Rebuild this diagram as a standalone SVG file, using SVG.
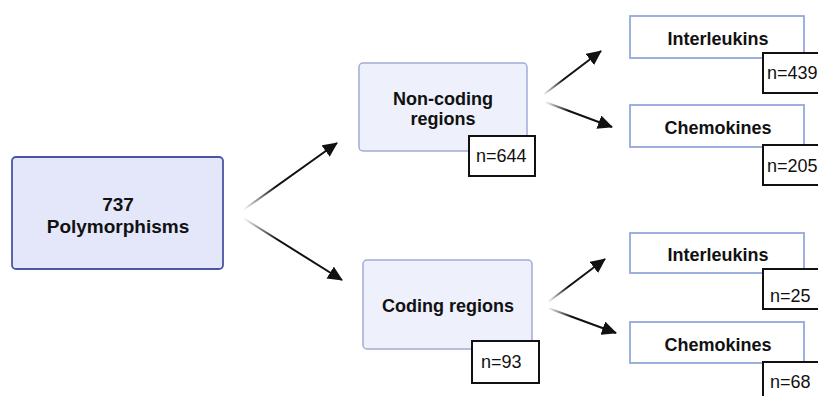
<svg xmlns="http://www.w3.org/2000/svg" width="818" height="396" viewBox="0 0 818 396">
<style>
  text { font-family: "Liberation Sans", Arial, sans-serif; text-anchor: middle; fill: #111; }
  .b { font-weight: bold; font-size: 18px; }
  .main { fill: #e4e7f9; stroke: #4b56a3; stroke-width: 1.8; }
  .mid { fill: #eef0fb; stroke: #a3abd9; stroke-width: 1.5; }
  .leaf { fill: #ffffff; stroke: #93a8dd; stroke-width: 1.8; }
  .cnt { fill: #ffffff; stroke: #111; stroke-width: 2; }
  .n { font-size: 18px; text-anchor: start; }
  .arr { fill: none; stroke: url(#fade); stroke-width: 2; marker-end: url(#ah); }
</style>
<defs>
  <linearGradient id="fade" x1="0" y1="0" x2="1" y2="0">
    <stop offset="0" stop-color="#111" stop-opacity="0"/>
    <stop offset="0.35" stop-color="#111" stop-opacity="1"/>
    <stop offset="1" stop-color="#111" stop-opacity="1"/>
  </linearGradient>
  <marker id="ah" markerWidth="16" markerHeight="14" refX="14" refY="7" orient="auto" markerUnits="userSpaceOnUse">
    <path d="M0,0 L15,7 L0,14 z" fill="#111"/>
  </marker>
</defs>
<rect width="818" height="396" fill="#ffffff"/>

<g id="connectors">
  <path class="arr" d="M243,210 L337,143"/>
  <path class="arr" d="M243,218 L342,280"/>
  <path class="arr" d="M543,95 L601,51"/>
  <path class="arr" d="M545,102 L612,127"/>
  <path class="arr" d="M548,302 L605,259"/>
  <path class="arr" d="M548,308 L616,333"/>
</g>

<g id="polymorphisms">
  <rect class="main" x="12" y="157" width="211" height="112" rx="4"/>
  <text class="b" x="118" y="211" style="font-size:19px">737</text>
  <text class="b" x="118" y="233" style="font-size:19px">Polymorphisms</text>
</g>

<g id="noncoding">
  <rect class="mid" x="359" y="63" width="168" height="88" rx="4"/>
  <text class="b" x="443" y="105">Non-coding</text>
  <text class="b" x="443" y="125">regions</text>
  <rect class="cnt" x="469" y="136" width="66" height="40"/>
  <text class="n" x="476" y="162">n=644</text>
</g>

<g id="coding">
  <rect class="mid" x="363" y="260" width="169" height="89" rx="4"/>
  <text class="b" x="448" y="312">Coding regions</text>
  <rect class="cnt" x="472" y="341" width="67" height="42"/>
  <text class="n" x="481" y="368">n=93</text>
</g>

<g id="nc-interleukins">
  <rect class="leaf" x="630" y="16" width="174" height="42"/>
  <text class="b" x="718" y="45">Interleukins</text>
  <rect class="cnt" x="763" y="53" width="80" height="40"/>
  <text class="n" x="767" y="79">n=439</text>
</g>

<g id="nc-chemokines">
  <rect class="leaf" x="630" y="105" width="174" height="42"/>
  <text class="b" x="718" y="134">Chemokines</text>
  <rect class="cnt" x="763" y="145" width="80" height="40"/>
  <text class="n" x="767" y="172">n=205</text>
</g>

<g id="c-interleukins">
  <rect class="leaf" x="630" y="233" width="174" height="40"/>
  <text class="b" x="718" y="261">Interleukins</text>
  <rect class="cnt" x="763" y="269" width="80" height="40"/>
  <text class="n" x="770" y="302">n=25</text>
</g>

<g id="c-chemokines">
  <rect class="leaf" x="630" y="322" width="174" height="41"/>
  <text class="b" x="718" y="351">Chemokines</text>
  <rect class="cnt" x="763" y="362" width="80" height="40"/>
  <text class="n" x="770" y="388">n=68</text>
</g>
</svg>
